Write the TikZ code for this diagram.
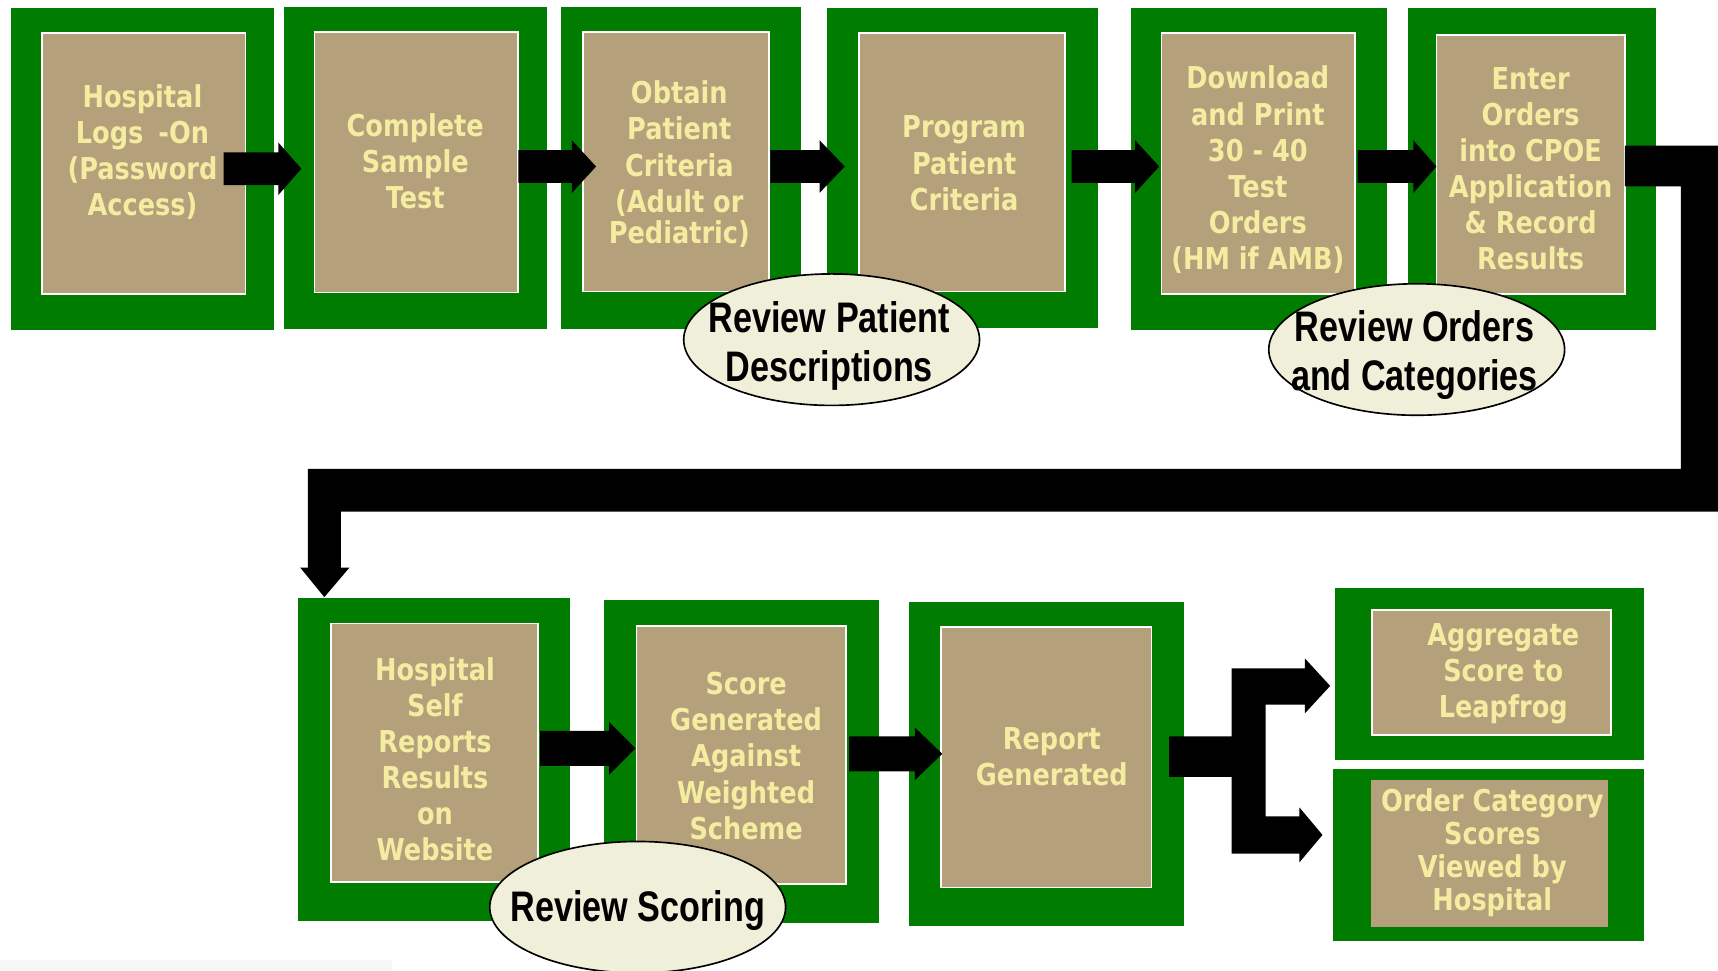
\documentclass[tikz,border=0pt]{standalone}
\usepackage{fontspec}
\newfontfamily\boxfnt[FakeStretch=0.85]{DejaVu Sans}
\newfontfamily\ellfnt[FakeStretch=0.8]{Liberation Sans}
\definecolor{grn}{HTML}{007D00}
\definecolor{tanc}{HTML}{B4A07B}
\definecolor{txtc}{HTML}{F4ECA0}
\definecolor{ellc}{HTML}{F0EFDA}
\definecolor{faint}{HTML}{F6F6F6}
\newcommand\barrow[6]{% x0 x1 xtip yc halfshaft halfhead
  \fill[black] (#1,#4-#5) -- (#2,#4-#5) -- (#2,#4-#6) -- (#3,#4) -- (#2,#4+#6) -- (#2,#4+#5) -- (#1,#4+#5) -- cycle;}
\begin{document}
\begin{tikzpicture}[x=1pt,y=-1pt,
  outer/.style={fill=grn},
  inner/.style={fill=tanc,draw=white,line width=1.6pt},
  txt/.style={align=center,text=txtc,inner sep=0pt,font=\boxfnt\bfseries\fontsize{27.5}{33}\selectfont},
  elltxt/.style={align=center,text=black,inner sep=0pt,font=\ellfnt\bfseries\fontsize{39}{45}\selectfont},
  ellbox/.style={fill=ellc,draw=black,line width=1.5pt}]
\useasboundingbox (0,0) rectangle (1568,886);
\fill[white] (0,0) rectangle (1568,886);
\fill[faint] (0,876) rectangle (358,886);
% top row boxes
\fill[outer] (10,7) rectangle (250,301);
\draw[inner] (38,30) rectangle (224,268);
\fill[outer] (259,6) rectangle (499,300);
\draw[inner] (287,29) rectangle (473,267);
\fill[outer] (512,6) rectangle (731,300);
\draw[inner] (532,29) rectangle (702,266);
\fill[outer] (755,7) rectangle (1002,299);
\draw[inner] (784,30) rectangle (972,266);
\fill[outer] (1032,7) rectangle (1266,301);
\draw[inner] (1060,30) rectangle (1237,268);
\fill[outer] (1285,7) rectangle (1511,301);
\draw[inner] (1311,32) rectangle (1483,268);
% bottom row boxes
\fill[outer] (272,546) rectangle (520,841);
\draw[inner] (302,569) rectangle (491,805);
\fill[outer] (551,548) rectangle (802,842);
\draw[inner] (581,571) rectangle (772,807);
\fill[outer] (830,549) rectangle (1081,845);
\draw[inner] (859,572) rectangle (1051,810);
\fill[outer] (1218,537) rectangle (1500,694);
\draw[inner] (1252,557) rectangle (1470,671);
\fill[outer] (1217,702) rectangle (1500,859);
\fill[tanc] (1251,712) rectangle (1468,846);
% texts
\node[txt] (t1) at (130,139) {Hospital\\Logs\enspace-On\\(Password\\Access)};
\node[txt] (t2) at (379,147) {Complete\\Sample\\Test};
\node[txt] (t3) at (620,150) {Obtain\\Patient\\Criteria\\(Adult or\\[-4pt]Pediatric)};
\node[txt] (t4) at (880,149) {Program\\Patient\\Criteria};
\node[txt] (t5) at (1148,155) {Download\\and Print\\30 - 40\\Test\\Orders\\(HM if AMB)};
\node[txt] (t6) at (1397,154) {Enter\\Orders\\into CPOE\\Application\\\& Record\\Results};
\node[txt] (t7) at (397,693) {Hospital\\Self\\Reports\\Results\\on\\Website};
\node[txt] (t8) at (681,690) {Score\\Generated\\Against\\Weighted\\Scheme};
\node[txt] (t9) at (960,691) {Report\\Generated};
\node[txt] (t10) at (1372,615) {Aggregate\\Score to\\Leapfrog};
\node[txt,font=\boxfnt\bfseries\fontsize{27.5}{30}\selectfont] (t11) at (1362,778) {Order Category\\Scores\\Viewed by\\Hospital};
% arrows top row
\barrow{204}{254}{275}{154}{15}{24}
\barrow{473}{522}{544}{152}{15}{24}
\barrow{703}{748}{771}{152}{15}{24}
\barrow{978}{1036}{1058}{152}{15}{24}
\barrow{1239}{1290}{1311}{152}{15}{24}
% big return connector
\fill[black] (1483,133) -- (1568,133) -- (1568,467) -- (311,467) -- (311,518) -- (319,518)
  -- (296,545) -- (274,518) -- (281,518) -- (281,428) -- (1534,428) -- (1534,170) -- (1483,170) -- cycle;
% arrows bottom row
\barrow{493}{556}{580}{683}{16}{24}
\barrow{775}{835}{860}{688}{16}{24}
% split arrow
\fill[black] (1067,672) -- (1124,672) -- (1124,610) -- (1191,610) -- (1191,601) -- (1214,626)
  -- (1191,651) -- (1191,643) -- (1155,643) -- (1155,745) -- (1186,745) -- (1186,737)
  -- (1207,762) -- (1186,787) -- (1186,779) -- (1124,779) -- (1124,709) -- (1067,709) -- cycle;
% ellipses
\path[ellbox] (759,310) ellipse [x radius=135, y radius=60];
\node[elltxt] (e1) at (757,316) {Review Patient\\Descriptions};
\path[ellbox] (1293,319) ellipse [x radius=135, y radius=60];
\node[elltxt] (e2) at (1291,324) {Review Orders\\and Categories};
\path[ellbox] (582,828) ellipse [x radius=135, y radius=60];
\node[elltxt] (e3) at (582,831) {Review Scoring};
\end{tikzpicture}
\end{document}
